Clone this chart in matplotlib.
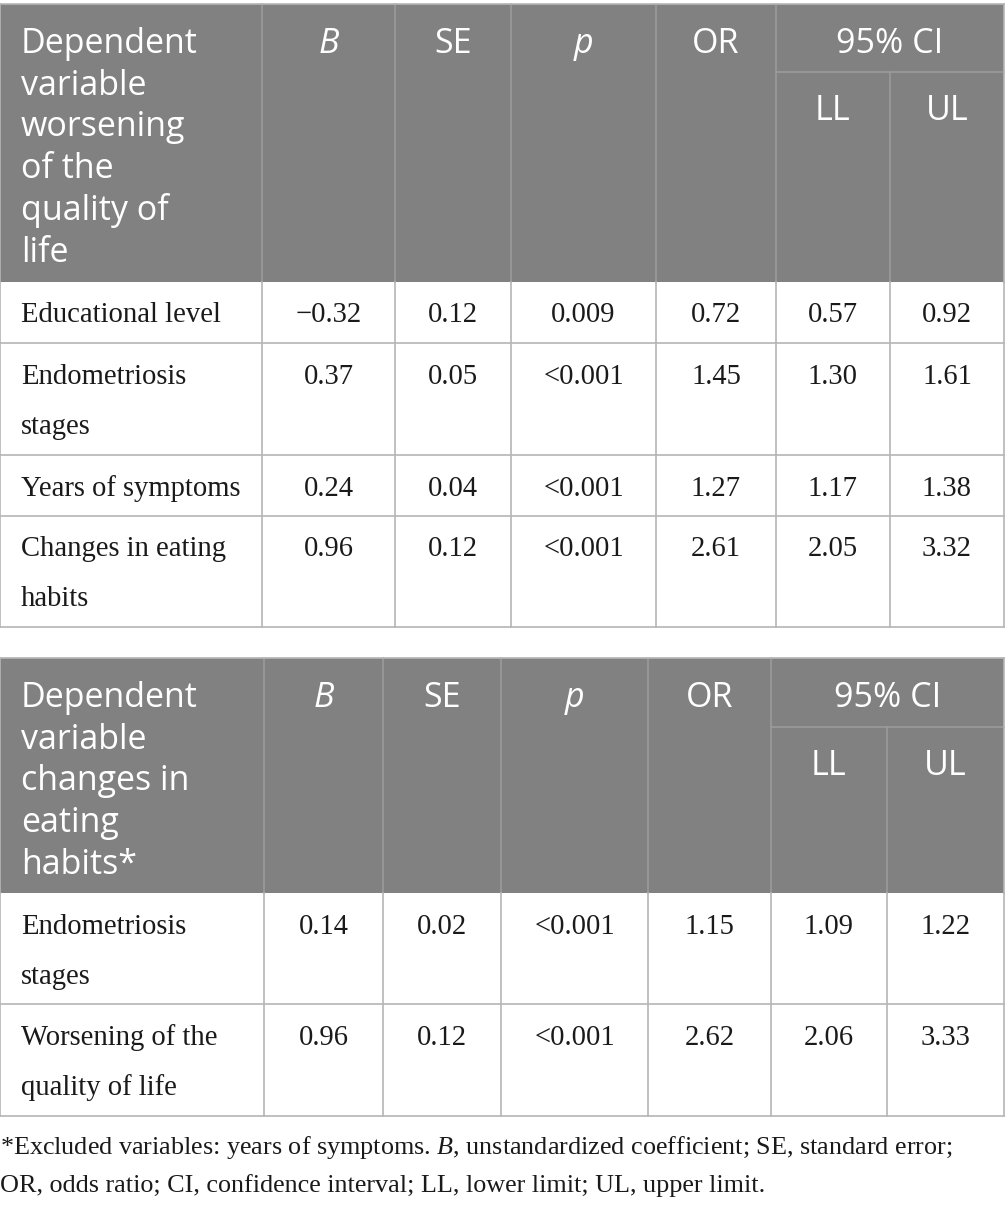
import matplotlib.pyplot as plt
from matplotlib.patches import Rectangle

# ---- table contents ----
col_headers = ["B", "SE", "p", "OR"]
ci_header = "95% CI"
ci_sub = ["LL", "UL"]

t1_title = ["Dependent", "variable", "worsening", "of the", "quality of", "life"]
t1_rows = [["Educational level"], ["Endometriosis", "stages"],
           ["Years of symptoms"], ["Changes in eating", "habits"]]
t1_B = ["\u22120.32", "0.37", "0.24", "0.96"]
t1_SE = ["0.12", "0.05", "0.04", "0.12"]
t1_p = ["0.009", "<0.001", "<0.001", "<0.001"]
t1_OR = ["0.72", "1.45", "1.27", "2.61"]
t1_LL = ["0.57", "1.30", "1.17", "2.05"]
t1_UL = ["0.92", "1.61", "1.38", "3.32"]

t2_title = ["Dependent", "variable", "changes in", "eating", "habits*"]
t2_rows = [["Endometriosis", "stages"], ["Worsening of the", "quality of life"]]
t2_B = ["0.14", "0.96"]
t2_SE = ["0.02", "0.12"]
t2_p = ["<0.001", "<0.001"]
t2_OR = ["1.15", "2.62"]
t2_LL = ["1.09", "2.06"]
t2_UL = ["1.22", "3.33"]

foot1 = ("*Excluded variables: years of symptoms. $\\mathit{B}$, unstandardized "
         "coefficient; SE, standard error;")
foot2 = "OR, odds ratio; CI, confidence interval; LL, lower limit; UL, upper limit."

# ---- layout (pixels) ----
HEAD_BG = "#808180"
LINE_BODY = "#b5b5b5"
LINE_HEAD = "#9c9d9c"
SANS = "Open Sans"
SERIF = "Liberation Serif"
HEAD_FS = 24.5
BODY_FS = 20.6
TXT = "#1a1a1a"

plt.rcParams["mathtext.fontset"] = "custom"
plt.rcParams["mathtext.it"] = "Liberation Serif:italic"
plt.rcParams["mathtext.rm"] = "Liberation Serif"

fig = plt.figure(figsize=(10.05, 12.05), dpi=100)
ax = fig.add_axes([0, 0, 1, 1])
ax.set_xlim(0, 1005)
ax.set_ylim(1205, 0)
ax.axis("off")


def draw_table(top, head_bot, ci_line, row_edges, xs, title, rows, cols):
    x0, x1 = xs[0], xs[-1]
    ax.add_patch(Rectangle((x0, top), x1 - x0, head_bot - top,
                           facecolor=HEAD_BG, edgecolor="none", zorder=1))
    # header grid
    for x in xs[1:-1]:
        y_start = ci_line if x == xs[6] else top
        ax.plot([x, x], [y_start, head_bot], color=LINE_HEAD, lw=1.1, zorder=2)
    ax.plot([xs[5], x1], [ci_line, ci_line], color=LINE_HEAD, lw=1.1, zorder=2)
    # body grid
    bottom = row_edges[-1]
    for x in xs:
        ax.plot([x, x], [head_bot, bottom], color=LINE_BODY, lw=1.2, zorder=2)
    for y in [top] + list(row_edges):
        ax.plot([x0, x1], [y, y], color=LINE_BODY, lw=1.2, zorder=3)
    ax.plot([x0, x0], [top, head_bot], color=LINE_BODY, lw=1.2, zorder=3)
    ax.plot([x1, x1], [top, head_bot], color=LINE_BODY, lw=1.2, zorder=3)

    # header text
    base = top + 49
    for i, line in enumerate(title):
        ax.text(xs[0] + 21, base + i * 41.7, line, fontsize=HEAD_FS,
                family=SANS, color="white", va="baseline", ha="left")
    for j, h in enumerate(col_headers):
        ax.text((xs[j + 1] + xs[j + 2]) / 2, base, h, fontsize=HEAD_FS,
                family=SANS, color="white", va="baseline", ha="center",
                style="italic" if h in ("B", "p") else "normal")
    ax.text((xs[5] + xs[7]) / 2, base, ci_header, fontsize=HEAD_FS,
            family=SANS, color="white", va="baseline", ha="center")
    for j, h in enumerate(ci_sub):
        ax.text((xs[5 + j] + xs[6 + j]) / 2, ci_line + 48, h, fontsize=HEAD_FS,
                family=SANS, color="white", va="baseline", ha="center")

    # body text
    edges = [head_bot] + list(row_edges)
    for r, label in enumerate(rows):
        c = (edges[r] + edges[r + 1]) / 2
        n = len(label)
        first = c + 10 - (n - 1) * 25
        for k, line in enumerate(label):
            ax.text(xs[0] + 21, first + k * 50, line, fontsize=BODY_FS,
                    family=SERIF, color=TXT, va="baseline", ha="left")
        for j, col in enumerate(cols):
            ax.text((xs[j + 1] + xs[j + 2]) / 2, first, col[r], fontsize=BODY_FS,
                    family=SERIF, color=TXT, va="baseline", ha="center")


draw_table(4, 282, 72, [343, 455, 516, 627],
           [0, 262, 395, 511, 656, 776, 890, 1004],
           t1_title, t1_rows, [t1_B, t1_SE, t1_p, t1_OR, t1_LL, t1_UL])
draw_table(658, 893, 727, [1004, 1116],
           [0, 264, 383, 501, 648, 771, 887, 1004],
           t2_title, t2_rows, [t2_B, t2_SE, t2_p, t2_OR, t2_LL, t2_UL])

ax.text(0, 1154, foot1, fontsize=18.8, family=SERIF, color=TXT,
        va="baseline", ha="left")
ax.text(0, 1192, foot2, fontsize=18.8, family=SERIF, color=TXT,
        va="baseline", ha="left")

fig.savefig("out.png", dpi=100, facecolor="white")
